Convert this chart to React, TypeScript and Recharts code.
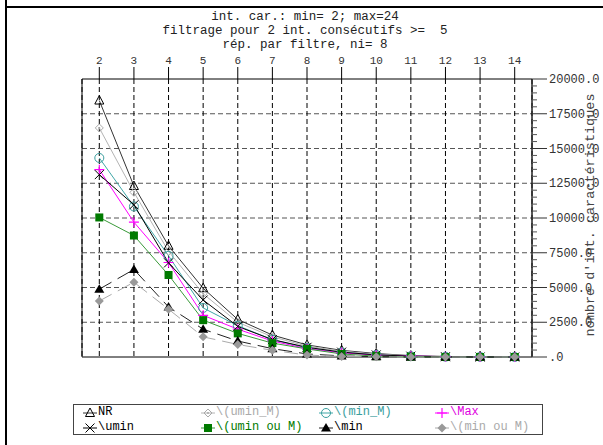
import React from "react";
import {
  LineChart,
  Line,
  XAxis,
  YAxis,
  CartesianGrid,
  ReferenceArea,
} from "recharts";

const xValues = [2, 3, 4, 5, 6, 7, 8, 9, 10, 11, 12, 13, 14];
const nr = [18450, 12300, 8000, 4950, 2700, 1580, 870, 480, 250, 100, 40, 15, 0];
const uminM = [16480, 11850, 7600, 4550, 2500, 1450, 780, 420, 200, 80, 30, 10, 0];
const minM = [14320, 10830, 7280, 3530, 2250, 1250, 650, 330, 150, 60, 20, 10, 0];
const maxS = [13480, 9700, 6800, 3000, 2000, 1150, 600, 300, 130, 80, 20, 0, 0];
const umin = [13120, 10950, 6770, 4100, 2200, 1250, 700, 350, 150, 60, 20, 0, 0];
const uminOuM = [10040, 8740, 5900, 2650, 1700, 1000, 580, 220, 60, 20, 0, 0, 0];
const minS = [4880, 6300, 3600, 2000, 1150, 600, 220, 80, 20, 0, 0, 0, 0];
const minOuM = [4030, 5380, 3440, 1450, 900, 480, 140, 40, 10, 0, 0, 0, 0];

// ticks every 500, labelled every 2500
const yTicks = Array.from({ length: 41 }, (_, i) => i * 500);

const titleLines = [
  "int. car.: min= 2; max=24",
  "filtrage pour 2 int. consécutifs >=  5",
  "rép. par filtre, ni= 8",
];

const data = xValues.map((x, i) => ({
  x,
  nr: nr[i],
  uminM: uminM[i],
  minM: minM[i],
  maxS: maxS[i],
  umin: umin[i],
  uminOuM: uminOuM[i],
  minS: minS[i],
  minOuM: minOuM[i],
}));

const mono = "'Liberation Mono', 'DejaVu Sans Mono', monospace";

type Shape = (cx: number, cy: number, color: string) => React.ReactElement;

const shapes: Record<string, Shape> = {
  triOpen: (cx, cy, c) => (
    <polygon points={`${cx},${cy - 5} ${cx - 4.5},${cy + 3.5} ${cx + 4.5},${cy + 3.5}`} fill="none" stroke={c} strokeWidth={1} />
  ),
  diamondOpen: (cx, cy, c) => (
    <g>
      <polygon points={`${cx},${cy - 4} ${cx + 4},${cy} ${cx},${cy + 4} ${cx - 4},${cy}`} fill="none" stroke={c} strokeWidth={1} />
      <circle cx={cx} cy={cy} r={1} fill={c} />
    </g>
  ),
  circleOpen: (cx, cy, c) => <circle cx={cx} cy={cy} r={4.5} fill="none" stroke={c} strokeWidth={1} />,
  plus: (cx, cy, c) => (
    <path d={`M${cx - 5},${cy}H${cx + 5}M${cx},${cy - 5}V${cy + 5}`} stroke={c} strokeWidth={1.2} />
  ),
  cross: (cx, cy, c) => (
    <path d={`M${cx - 4.5},${cy - 4.5}L${cx + 4.5},${cy + 4.5}M${cx - 4.5},${cy + 4.5}L${cx + 4.5},${cy - 4.5}`} stroke={c} strokeWidth={1} />
  ),
  square: (cx, cy, c) => <rect x={cx - 4} y={cy - 4} width={8} height={8} fill={c} />,
  triFilled: (cx, cy, c) => (
    <polygon points={`${cx},${cy - 5} ${cx - 5},${cy + 3.5} ${cx + 5},${cy + 3.5}`} fill={c} />
  ),
  diamondFilled: (cx, cy, c) => (
    <polygon points={`${cx},${cy - 4.5} ${cx + 4.5},${cy} ${cx},${cy + 4.5} ${cx - 4.5},${cy}`} fill={c} />
  ),
};

const series = [
  { key: "nr", name: "NR", line: "#333", mark: "#000", text: "#000", shape: "triOpen", dash: undefined, col: 0, row: 0 },
  { key: "uminM", name: "\\(umin_M)", line: "#b4b4b4", mark: "#aaa", text: "#aaa", shape: "diamondOpen", dash: undefined, col: 1, row: 0 },
  { key: "minM", name: "\\(min_M)", line: "#3fa7a7", mark: "#3a9e9e", text: "#3a9e9e", shape: "circleOpen", dash: undefined, col: 2, row: 0 },
  { key: "maxS", name: "\\Max", line: "#ff00ff", mark: "#ff00ff", text: "#e000e0", shape: "plus", dash: undefined, col: 3, row: 0 },
  { key: "umin", name: "\\umin", line: "#000", mark: "#000", text: "#000", shape: "cross", dash: undefined, col: 0, row: 1 },
  { key: "uminOuM", name: "\\(umin ou M)", line: "#3a9a3a", mark: "#007a00", text: "#007a00", shape: "square", dash: undefined, col: 1, row: 1 },
  { key: "minS", name: "\\min", line: "#222", mark: "#000", text: "#000", shape: "triFilled", dash: "14 7", col: 2, row: 1 },
  { key: "minOuM", name: "\\(min ou M)", line: "#aaa", mark: "#999", text: "#aaa", shape: "diamondFilled", dash: "14 7", col: 3, row: 1 },
];

const legendCols = [8, 126, 244, 360];

const TICK_SIZE = 15;
const TICK_MARGIN = 2;

function RightTick(props: any) {
  const { x, y, payload } = props;
  const v = payload.value as number;
  const major = v % 2500 === 0;
  const axisX = x - TICK_SIZE - TICK_MARGIN;
  return (
    <g>
      <line x1={axisX} y1={y} x2={axisX + (major ? TICK_SIZE : 5)} y2={y} stroke={major ? "#333" : "#555"} />
      {major && (
        <text x={x} y={y} dy={4} fontFamily={mono} fontSize={12} fill="#333" textAnchor="start">
          {v === 0 ? ".0" : v.toFixed(1)}
        </text>
      )}
    </g>
  );
}

function Legend() {
  return (
    <div
      style={{
        position: "absolute",
        left: 73,
        top: 404,
        width: 468,
        height: 29,
        border: "1px solid #444",
        fontFamily: mono,
        fontSize: 12,
      }}
    >
      {series.map((s) => (
        <div
          key={s.key}
          style={{
            position: "absolute",
            left: legendCols[s.col],
            top: s.row === 0 ? 0 : 15,
            height: 14,
            display: "flex",
            alignItems: "center",
            color: s.text,
            whiteSpace: "pre",
          }}
        >
          <svg width={16} height={12}>
            <line x1={1} y1={7} x2={15} y2={7} stroke={s.line} strokeWidth={1} />
            {shapes[s.shape](8, 7, s.mark)}
          </svg>
          <span style={{ lineHeight: "14px" }}>{s.name}</span>
        </div>
      ))}
    </div>
  );
}

export default function App() {
  return (
    <div style={{ position: "absolute", left: 0, top: 0, width: 603, height: 445, background: "#fff", overflow: "hidden" }}>
      <div style={{ position: "absolute", left: 5, top: 0, width: 2, height: 445, background: "#000" }} />
      <div style={{ position: "absolute", left: 5, top: 6, width: 598, height: 2, background: "#000" }} />
      {titleLines.map((t, i) => (
        <div
          key={i}
          style={{
            position: "absolute",
            left: 0,
            width: 610,
            top: 10 + i * 14,
            textAlign: "center",
            fontFamily: mono,
            fontSize: 12.5,
            lineHeight: "14px",
            color: "#222",
            whiteSpace: "pre",
          }}
        >
          {t}
        </div>
      ))}
      <div style={{ position: "absolute", left: 0, top: 0 }}>
        <LineChart width={603} height={445} data={data} margin={{ top: 49, right: 11, bottom: 88, left: 82 }}>
          <CartesianGrid
            vertical={false}
            stroke="#555"
            strokeDasharray="5 3"
            horizontalValues={[2500, 5000, 7500, 10000, 12500, 15000, 17500]}
          />
          <CartesianGrid horizontal={false} stroke="#000" strokeDasharray="5 3" />
          <XAxis
            dataKey="x"
            type="number"
            orientation="top"
            domain={[1.5, 14.5]}
            ticks={xValues}
            interval={0}
            height={30}
            axisLine={false}
            tickSize={12}
            tickMargin={3}
            tickLine={{ stroke: "#000" }}
            tick={{ fontFamily: mono, fontSize: 11, fill: "#333" }}
          />
          <YAxis
            orientation="right"
            type="number"
            domain={[0, 20000]}
            ticks={yTicks}
            interval={0}
            width={60}
            tickSize={TICK_SIZE}
            tickMargin={TICK_MARGIN}
            axisLine={{ stroke: "#333" }}
            tickLine={false}
            tick={<RightTick />}
          />
          <ReferenceArea x1={1.5} x2={14.5} y1={0} y2={20000} fill="none" stroke="#000" strokeWidth={1} />
          {series.map((s) => (
            <Line
              key={s.key}
              dataKey={s.key}
              name={s.name}
              stroke={s.line}
              strokeWidth={1}
              strokeDasharray={s.dash}
              isAnimationActive={false}
              dot={(p: any) => <g key={`${s.key}-${p.index}`}>{shapes[s.shape](p.cx, p.cy, s.mark)}</g>}
              activeDot={false}
            />
          ))}
        </LineChart>
      </div>
      <div
        style={{
          position: "absolute",
          left: 590,
          top: 215,
          transform: "translate(-50%, -50%) rotate(-90deg)",
          fontFamily: mono,
          fontSize: 13.5,
          color: "#444",
          whiteSpace: "pre",
        }}
      >
        nombre d'int. caractéristiques
      </div>
      <Legend />
    </div>
  );
}
